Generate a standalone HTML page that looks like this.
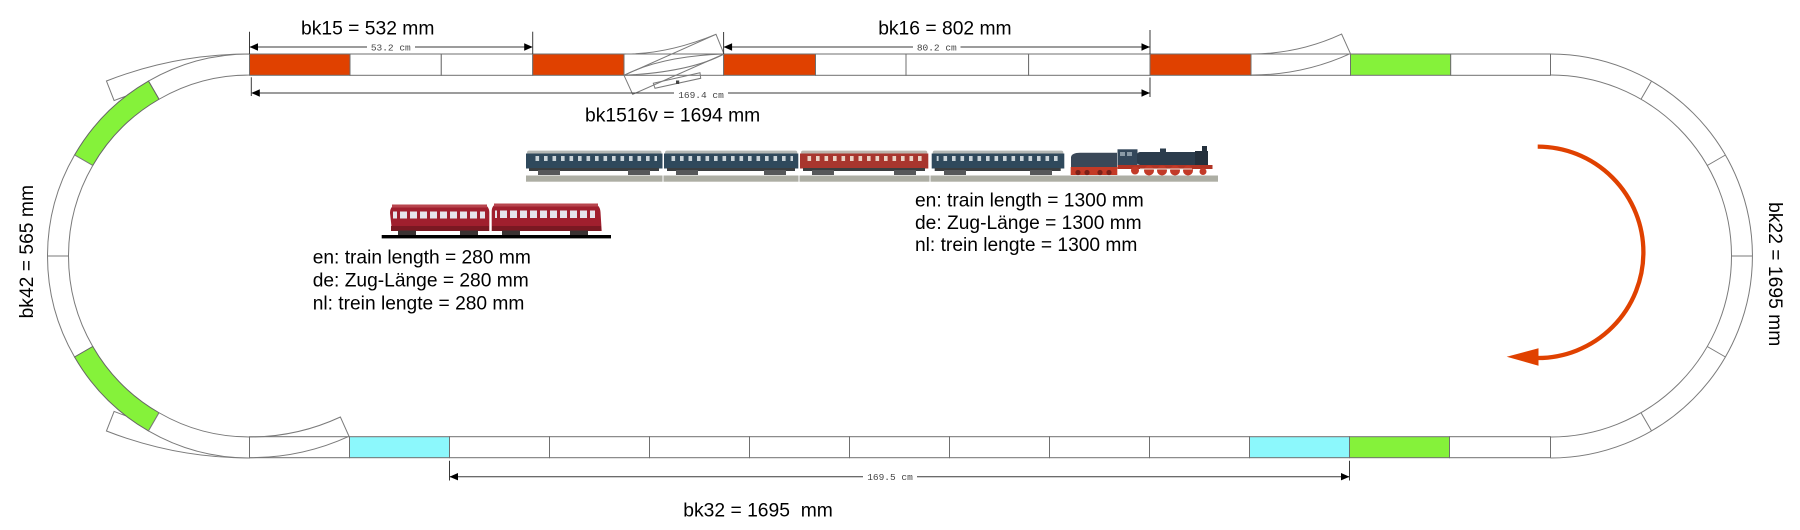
<!DOCTYPE html>
<html>
<head>
<meta charset="utf-8">
<style>
html,body{margin:0;padding:0;background:#fff;}
svg{display:block;}
.lbl{font-family:"Liberation Sans",Arial,sans-serif;font-size:19.3px;fill:#000;}
.tx{font-family:"Liberation Sans",Arial,sans-serif;font-size:19.2px;fill:#000;}
.mono{font-family:"Liberation Mono","DejaVu Sans Mono",monospace;font-size:9.5px;fill:#444;}
</style>
</head>
<body>
<svg width="1800" height="530" viewBox="0 0 1800 530" xmlns="http://www.w3.org/2000/svg">
<defs>
  <pattern id="winB" x="0" y="0" width="8.5" height="5" patternUnits="userSpaceOnUse">
    <rect x="0" y="0" width="3.6" height="5" fill="#c9d3d8"/>
  </pattern>
  <pattern id="winR" x="0" y="0" width="8.5" height="5" patternUnits="userSpaceOnUse">
    <rect x="0" y="0" width="3.6" height="5" fill="#ead2c4"/>
  </pattern>
  <pattern id="winBus" x="0" y="0" width="10" height="7" patternUnits="userSpaceOnUse">
    <rect x="0" y="0" width="7" height="7" fill="#e6e4ec"/>
  </pattern>
</defs>
<rect x="0" y="0" width="1800" height="530" fill="#fff"/>

<!-- ===== LEFT CURVE ===== -->
<g stroke="#7a7a7a" stroke-width="1">
  <!-- diverging piece B (top-left) -->
  <path d="M249.5,54 A392,392 0 0 0 106.46,81 L114.12,100.56 A371,371 0 0 1 249.5,75 Z" fill="#fff"/>
  <!-- diverging piece B' (bottom-left) -->
  <path d="M249.5,458 A392,392 0 0 1 106.46,431 L114.12,411.44 A371,371 0 0 0 249.5,437 Z" fill="#fff"/>
  <!-- main loop segments -->
  <path d="M249.5,54 A202,202 0 0 0 148.5,81.07 L159,99.25 A181,181 0 0 1 249.5,75 Z" fill="#fff"/>
  <path d="M148.5,81.07 A202,202 0 0 0 74.57,155 L92.75,165.5 A181,181 0 0 1 159,99.25 Z" fill="#85f23a" stroke="#666"/>
  <path d="M74.57,155 A202,202 0 0 0 47.5,256 L68.5,256 A181,181 0 0 1 92.75,165.5 Z" fill="#fff"/>
  <path d="M47.5,256 A202,202 0 0 0 74.57,357 L92.75,346.5 A181,181 0 0 1 68.5,256 Z" fill="#fff"/>
  <path d="M74.57,357 A202,202 0 0 0 148.5,430.93 L159,412.75 A181,181 0 0 1 92.75,346.5 Z" fill="#85f23a" stroke="#666"/>
  <path d="M148.5,430.93 A202,202 0 0 0 249.5,458 L249.5,437 A181,181 0 0 1 159,412.75 Z" fill="#fff"/>
</g>

<!-- ===== RIGHT CURVE ===== -->
<g stroke="#7a7a7a" stroke-width="1" fill="none">
  <path d="M1550.5,54 A202,202 0 0 1 1550.5,458"/>
  <path d="M1550.5,75 A181,181 0 0 1 1550.5,437"/>
  <line x1="1651.5" y1="81.07" x2="1641" y2="99.25"/>
  <line x1="1725.43" y1="155" x2="1707.25" y2="165.5"/>
  <line x1="1752.5" y1="256" x2="1731.5" y2="256"/>
  <line x1="1725.43" y1="357" x2="1707.25" y2="346.5"/>
  <line x1="1651.5" y1="430.93" x2="1641" y2="412.75"/>
</g>

<!-- ===== TOP STRAIGHT ===== -->
<g stroke="#6f6f6f" stroke-width="1">
  <rect x="249.5" y="54" width="100.5" height="21.3" fill="#e04100"/>
  <rect x="350" y="54" width="91.3" height="21.3" fill="#fff"/>
  <rect x="441.3" y="54" width="91.4" height="21.3" fill="#fff"/>
  <rect x="532.7" y="54" width="91.3" height="21.3" fill="#e04100"/>
  <rect x="624" y="54" width="99.6" height="21.3" fill="#fff"/>
  <rect x="723.6" y="54" width="91.9" height="21.3" fill="#e04100"/>
  <rect x="815.5" y="54" width="90.5" height="21.3" fill="#fff"/>
  <rect x="906" y="54" width="122.6" height="21.3" fill="#fff"/>
  <rect x="1028.6" y="54" width="121.4" height="21.3" fill="#fff"/>
  <rect x="1150" y="54" width="101" height="21.3" fill="#e04100"/>
  <rect x="1251" y="54" width="99.5" height="21.3" fill="#fff"/>
  <rect x="1350.5" y="54" width="100.2" height="21.3" fill="#85f23a"/>
  <rect x="1450.7" y="54" width="99.8" height="21.3" fill="#fff"/>
</g>

<!-- ===== BOTTOM STRAIGHT ===== -->
<g stroke="#6f6f6f" stroke-width="1">
  <rect x="249.5" y="436.7" width="100" height="21" fill="#fff"/>
  <rect x="349.5" y="436.7" width="100" height="21" fill="#8cf8fc"/>
  <rect x="449.5" y="436.7" width="100" height="21" fill="#fff"/>
  <rect x="549.5" y="436.7" width="100" height="21" fill="#fff"/>
  <rect x="649.5" y="436.7" width="100" height="21" fill="#fff"/>
  <rect x="749.5" y="436.7" width="100" height="21" fill="#fff"/>
  <rect x="849.5" y="436.7" width="100" height="21" fill="#fff"/>
  <rect x="949.5" y="436.7" width="100" height="21" fill="#fff"/>
  <rect x="1049.5" y="436.7" width="100" height="21" fill="#fff"/>
  <rect x="1149.5" y="436.7" width="100" height="21" fill="#fff"/>
  <rect x="1249.5" y="436.7" width="100" height="21" fill="#8cf8fc"/>
  <rect x="1349.5" y="436.7" width="100" height="21" fill="#85f23a"/>
  <rect x="1449.5" y="436.7" width="101" height="21" fill="#fff"/>
</g>

<!-- ===== BRANCHES / SWITCH DETAILS ===== -->
<g stroke="#7a7a7a" stroke-width="1" fill="none">
  <!-- top-right branch -->
  <path d="M1251,54 A216,216 0 0 0 1341.6,34.1 L1350.4,53.6 A237,237 0 0 1 1251,75"/>
  <!-- bottom-left branch -->
  <path d="M249.5,437 A216,216 0 0 0 340.4,417 L349,436.3 A237,237 0 0 1 249.5,457.7"/>
  <!-- middle switch -->
  <polygon points="624,75.3 632.7,94.3 724,54 716,34.3"/>
  <path d="M626,54 Q668,54 716,34.3"/>
  <path d="M624,75.3 Q662,56 724,54"/>
  <path d="M624,75.3 Q690,72 724,54"/>
  <polygon points="653.3,83.3 700,72.7 700.7,78.3 655,88.3"/>
</g>
<rect x="676" y="80.5" width="3.2" height="3.5" fill="#444"/>

<!-- ===== DIMENSIONS ===== -->
<g stroke="#3a3a3a" stroke-width="1" fill="none">
  <!-- bk15 -->
  <line x1="249.5" y1="31.7" x2="249.5" y2="54"/>
  <line x1="532.7" y1="31.7" x2="532.7" y2="54"/>
  <line x1="250" y1="47" x2="532" y2="47"/>
  <!-- bk16 -->
  <line x1="723.6" y1="32" x2="723.6" y2="54"/>
  <line x1="1150" y1="30" x2="1150" y2="54"/>
  <line x1="724" y1="47" x2="1149.5" y2="47"/>
  <!-- bk1516v -->
  <line x1="251.3" y1="77.3" x2="251.3" y2="96"/>
  <line x1="1150" y1="77.5" x2="1150" y2="97"/>
  <line x1="252" y1="93" x2="1149.5" y2="93"/>
  <!-- bk32 -->
  <line x1="449.5" y1="460.7" x2="449.5" y2="480.5"/>
  <line x1="1349.5" y1="460.7" x2="1349.5" y2="480.5"/>
  <line x1="450" y1="476.7" x2="1349" y2="476.7"/>
</g>
<g fill="#000">
  <polygon points="249.5,47 258,43.3 258,50.7"/>
  <polygon points="532.7,47 524.2,43.3 524.2,50.7"/>
  <polygon points="723.6,47 732.1,43.3 732.1,50.7"/>
  <polygon points="1150,47 1141.5,43.3 1141.5,50.7"/>
  <polygon points="251.3,93 259.8,89.3 259.8,96.7"/>
  <polygon points="1150,93 1141.5,89.3 1141.5,96.7"/>
  <polygon points="449.5,476.7 458,473 458,480.4"/>
  <polygon points="1349.5,476.7 1341,473 1341,480.4"/>
</g>
<g fill="#fff">
  <rect x="367" y="42" width="48" height="10"/>
  <rect x="913" y="42" width="47.5" height="10"/>
  <rect x="674" y="89" width="54" height="11"/>
  <rect x="863" y="472" width="54" height="10"/>
</g>
<text class="mono" x="390.8" y="50.5" text-anchor="middle">53.2 cm</text>
<text class="mono" x="936.8" y="50.5" text-anchor="middle">80.2 cm</text>
<text class="mono" x="701" y="97.8" text-anchor="middle">169.4 cm</text>
<text class="mono" x="890" y="480" text-anchor="middle">169.5 cm</text>

<!-- ===== LABELS ===== -->
<text class="lbl" x="301" y="34.7">bk15 = 532 mm</text>
<text class="lbl" x="878.2" y="34.7">bk16 = 802 mm</text>
<text class="lbl" x="585" y="121.7">bk1516v = 1694 mm</text>
<text class="lbl" x="683.3" y="516.7" xml:space="preserve" style="white-space:pre">bk32 = 1695  mm</text>
<text class="lbl" transform="translate(33.2,251.7) rotate(-90)" text-anchor="middle">bk42 = 565 mm</text>
<text class="lbl" transform="translate(1768.8,274.2) rotate(90)" text-anchor="middle">bk22 = 1695 mm</text>

<text class="tx" x="312.7" y="263.3">en: train length = 280 mm</text>
<text class="tx" x="312.7" y="286.5">de: Zug-Länge = 280 mm</text>
<text class="tx" x="312.7" y="309.3">nl: trein lengte = 280 mm</text>

<text class="tx" x="915" y="206.6">en: train length = 1300 mm</text>
<text class="tx" x="915" y="228.9">de: Zug-Länge = 1300 mm</text>
<text class="tx" x="915" y="251">nl: trein lengte = 1300 mm</text>

<!-- ===== RED DIRECTION ARROW ===== -->
<path d="M1537.7,146.6 A105.7,105.7 0 0 1 1643.4,252.3 A105.7,105.7 0 0 1 1537.7,358" fill="none" stroke="#e04100" stroke-width="4.3"/>
<polygon points="1506.7,356.8 1538.5,348.3 1538.5,365.7" fill="#e04100"/>

<!-- ===== LONG TRAIN ===== -->
<rect x="526" y="175.5" width="692" height="6.2" fill="#adaea4"/>
<!-- coach 1 -->
<g>
  <rect x="527" y="150.6" width="134.5" height="4" rx="2" fill="#b4b8b5"/>
  <rect x="526" y="153.5" width="136.5" height="15" fill="#2f495c"/>
  <rect x="531" y="156" width="126" height="5" fill="url(#winB)"/>
  <rect x="529" y="168" width="130" height="3" fill="#3b3e40"/>
  <rect x="538" y="170" width="22" height="5" fill="#56585a"/>
  <rect x="628" y="170" width="22" height="5" fill="#56585a"/>
</g>
<!-- coach 2 -->
<g>
  <rect x="665" y="150.6" width="132.3" height="4" rx="2" fill="#b4b8b5"/>
  <rect x="664" y="153.5" width="134.3" height="15" fill="#2f495c"/>
  <rect x="669" y="156" width="124" height="5" fill="url(#winB)"/>
  <rect x="667" y="168" width="128" height="3" fill="#3b3e40"/>
  <rect x="676" y="170" width="22" height="5" fill="#56585a"/>
  <rect x="764" y="170" width="22" height="5" fill="#56585a"/>
</g>
<!-- coach 3 red -->
<g>
  <rect x="801" y="150.6" width="126.3" height="4" rx="2" fill="#bdb6ae"/>
  <rect x="800" y="153.5" width="128.3" height="15" fill="#a8362e"/>
  <rect x="805" y="156" width="118" height="5" fill="url(#winR)"/>
  <rect x="803" y="168" width="122" height="3" fill="#3b3e40"/>
  <rect x="812" y="170" width="22" height="5" fill="#56585a"/>
  <rect x="894" y="170" width="22" height="5" fill="#56585a"/>
</g>
<!-- coach 4 -->
<g>
  <rect x="932.7" y="150.6" width="130.6" height="4" rx="2" fill="#b4b8b5"/>
  <rect x="931.7" y="153.5" width="132.6" height="15" fill="#2f495c"/>
  <rect x="936.7" y="156" width="122" height="5" fill="url(#winB)"/>
  <rect x="934.7" y="168" width="126" height="3" fill="#3b3e40"/>
  <rect x="944" y="170" width="22" height="5" fill="#56585a"/>
  <rect x="1030" y="170" width="22" height="5" fill="#56585a"/>
</g>
<!-- tender -->
<g>
  <path d="M1071,170 L1071,157 Q1072,152.7 1080,152.7 L1117,152.7 L1117,170 Z" fill="#3a4858"/>
  <rect x="1070.7" y="167" width="46.6" height="8" fill="#c43a26"/>
  <circle cx="1078" cy="172.5" r="2.6" fill="#7a2018"/>
  <circle cx="1087" cy="172.5" r="2.6" fill="#7a2018"/>
  <circle cx="1100" cy="172.5" r="2.6" fill="#7a2018"/>
  <circle cx="1109" cy="172.5" r="2.6" fill="#7a2018"/>
</g>
<!-- locomotive -->
<g>
  <rect x="1117.5" y="149.3" width="20" height="17" fill="#33475a"/>
  <rect x="1120" y="152" width="5" height="4" fill="#8a9aa6"/>
  <rect x="1127" y="152" width="5" height="4" fill="#8a9aa6"/>
  <rect x="1137" y="152" width="64" height="13" rx="3" fill="#2b3c4c"/>
  <rect x="1195" y="151" width="13" height="14" fill="#24303c"/>
  <rect x="1202" y="146" width="5" height="6" fill="#24303c"/>
  <rect x="1160" y="148.5" width="6" height="4" fill="#2b3c4c"/>
  <rect x="1117.5" y="165" width="95" height="4" fill="#b23424"/>
  <circle cx="1135" cy="170.5" r="4" fill="#c23a28"/>
  <circle cx="1149" cy="170.5" r="5" fill="#c23a28"/>
  <circle cx="1162" cy="170.5" r="5" fill="#c23a28"/>
  <circle cx="1175" cy="170.5" r="5" fill="#c23a28"/>
  <circle cx="1188" cy="170.5" r="5" fill="#c23a28"/>
  <circle cx="1203" cy="171.5" r="3.5" fill="#c23a28"/>
  <line x1="1140" y1="169" x2="1192" y2="169" stroke="#e8e0d8" stroke-width="1"/>
</g>
<g stroke="#fff" stroke-width="1">
  <line x1="663" y1="150" x2="663" y2="182"/>
  <line x1="799" y1="150" x2="799" y2="182"/>
  <line x1="930" y1="150" x2="930" y2="182"/>
</g>

<!-- ===== RAILBUS ===== -->
<g>
  <rect x="381.7" y="235" width="229.3" height="3.4" fill="#000"/>
  <!-- car 1 -->
  <path d="M392,231 L390,213 Q390,205 398,204.5 L482,204.5 Q489,205 489.3,212 L489.3,231 Z" fill="#a01f2e"/>
  <rect x="392" y="204.5" width="95" height="3" fill="#b8454e"/>
  <rect x="393" y="211.5" width="92" height="7" fill="url(#winBus)"/>
  <rect x="391" y="226" width="98" height="5" fill="#7a1822"/>
  <rect x="398" y="230.5" width="18" height="4.5" fill="#3a3232"/>
  <rect x="460" y="230.5" width="18" height="4.5" fill="#3a3232"/>
  <!-- car 2 -->
  <path d="M491.7,231 L491.7,211 Q492,204 499,203.5 L592,203.5 Q600,204 600.5,212 L601.7,231 Z" fill="#a01f2e"/>
  <rect x="494" y="203.5" width="104" height="3" fill="#b8454e"/>
  <rect x="495" y="210.5" width="100" height="7.5" fill="url(#winBus)"/>
  <rect x="492" y="226" width="109" height="5" fill="#7a1822"/>
  <rect x="502" y="230.5" width="18" height="4.5" fill="#3a3232"/>
  <rect x="570" y="230.5" width="18" height="4.5" fill="#3a3232"/>
</g>
</svg>
</body>
</html>
